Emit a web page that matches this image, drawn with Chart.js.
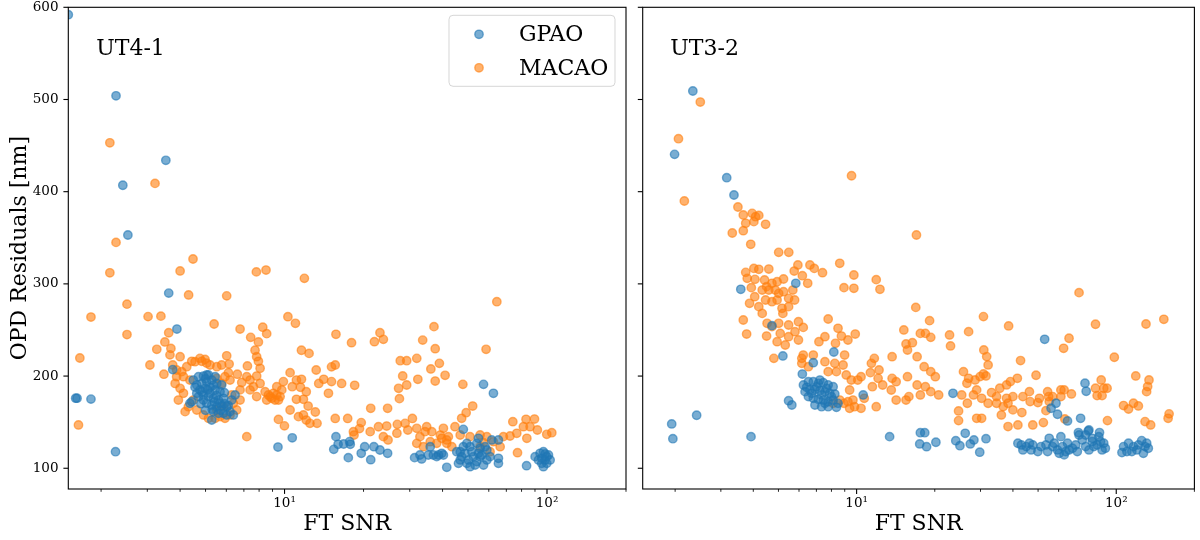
<!DOCTYPE html>
<html><head><meta charset="utf-8">
<script src="https://cdn.jsdelivr.net/npm/chart.js@4.4.1/dist/chart.umd.min.js"></script>
<style>
html,body{margin:0;padding:0;background:#fff;}
#wrap{position:relative;width:1200px;height:540px;overflow:hidden;}
#p1{position:absolute;left:0;top:0;width:634px;height:540px;}
#p2{position:absolute;left:634px;top:0;width:566px;height:540px;}
</style></head><body>
<div id="wrap"><div id="p1"><canvas id="c1" width="634" height="540"></canvas></div><div id="p2"><canvas id="c2" width="566" height="540"></canvas></div></div>
<script>
// ---- data: [FT SNR, OPD residual nm] ----
const panelNames = ['UT4-1', 'UT3-2'];
const seriesNames = ['GPAO', 'MACAO'];
const xTickValues = [2,3,4,5,6,7,8,9,10,20,30,40,50,60,70,80,90,100,200];
const xTickLabels = ['','','','','','','','','10\u00b9','','','','','','','','','10\u00b2',''];
const yTickValues = [100,200,300,400,500,600];

const ut41Gpao = [[1.5,592],[2.28,504],[3.53,434],[2.42,407],[2.53,353],[3.62,290],[3.89,251],[3.75,207],[1.62,176],[1.60,176],[1.83,175],[2.27,118],[9.44,123],[10.7,133],
[4.49,195.7],[4.70,199.3],[4.91,200],[5.13,201.2],[4.63,190.3],[4.84,192],[5.05,193.9],[5.28,195.7],[5.52,192],[4.76,184.9],[4.98,186.7],[5.20,187.8],[5.44,184.9],[5.68,183.1],[4.70,177.7],[4.91,179.5],[5.13,177.7],[5.36,175.9],[5.60,174],[5.85,175.9],[5.05,170.4],[5.28,168.6],[5.52,166.8],[5.76,167.5],[6.02,166.8],[5.36,161.4],[5.60,159.6],[5.85,159.6],[6.20,161.4],[6.38,157.8],[5.28,152.3],[5.05,201.2],[4.43,172.2],[5.76,190.3],[6.29,174],[6.48,179.5],[5.44,199.3],[5.20,181.3],[4.91,174],[5.68,170.4],[6.02,157.8],[4.63,181.3],[4.36,170.4],[4.56,188],[5.0,197],[5.35,190],[4.85,183],[5.1,185],[5.5,179],[4.8,170],[5.4,172],[5.9,170],[5.3,164],[5.0,163],[5.7,163],[6.1,168],[5.9,182],
[15.4,120.5],[16.0,126],[16.8,126.3],[17.7,128.9],[17.8,126],[17.5,111.5],[19.6,116.2],[20.2,123.4],[21.3,109.3],[21.9,123.4],[23.1,119.8],[24.7,116.2],[15.7,134.3],
[31.3,111.5],[33.3,110.1],[35.9,123.4],[35.3,114.4],[36.9,114.4],[38.6,114.4],[40.3,114.4],[41.5,101],[45.3,118],[48.0,142.2],[47.3,112.6],[49.5,127],[50.2,109],[52.4,112.6],[54.8,132.5],[54,107.2],[55.6,112.6],[57.3,103.5],[59,109],[57.3,191],[62.5,181.3],[61.6,130.7],[65.3,130.7],[65.3,110.8],[65.3,105.3],[48,123.4],[50.9,123.4],[46.7,109],[49.5,105.3],[55.6,121.6],[59,119.8],[51.7,118],[54.8,116.2],[50.9,101.7],[46.7,118],[32.8,114.4],[38,112.6],[39.7,116.2],[46,105.3],[53.2,103.5],[56.4,114.4],[60.7,112.6],[48.7,116.2],[58.1,123.4],[54,127],
[90.1,112.6],[83.6,102.8],[94.1,116.2],[96.9,118],[98.3,109],[101.3,114.4],[96.9,101.7],[99.8,112.6],[95.5,110.8],[92.8,109],[99.8,105.3],[98.3,115.5],[102.8,109],[95.5,105.3]];

const ut41Macao = [[2.16,453],[3.21,409],[2.28,345],[2.16,312],[4.48,327],[4.0,314],[7.81,313],[8.5,315],[11.9,306],[4.31,288],[6.02,287],[1.83,264],[2.51,278],[2.51,245],[3.02,264.5],[1.66,219.6],[1.64,147],
[3.38,265],[5.39,256.5],[3.07,212],[3.62,247],[3.50,237],[3.26,229],[3.69,230],[3.66,223],[4.0,221],[3.75,212],[3.47,202],[4.43,216],[4.84,216],[5.05,214],[5.20,212],[6.02,222],[6.15,213],[6.77,251],[7.43,242],[8.26,253],[8.55,246],[7.95,237],[7.72,228],[7.22,211],[7.83,221],[7.95,216],[8.07,208.4],[6.11,203.7],[6.20,195.7],[5.76,192],[6.61,202],[7.18,199.3],[6.87,193],[7.39,195.7],[7.83,200],[8.07,192],[7.61,188.5],[7.39,185],[7.83,177.7],[8.81,177.7],[9.2,174],[8.43,183],[8.68,179.5],[9.07,181.3],[9.48,174],[9.62,177.7],[8.55,174],[8.94,176],[9.34,179.5],[9.76,185],[9.9,194],[9.34,188.5],[10.5,203.7],[11.1,195.7],[11.6,196.5],[10.7,188.5],[11.5,187.8],[12.1,183],[11.8,174.8],[12.3,167.5],[11.1,174.8],[10.5,163.2],[9.48,153],[9.99,146],[11.3,156],[11.8,157.8],[12.1,152.3],[12.5,148.7],[13.1,161],[13.3,148.7],[10.3,264.4],[11.0,257.2],[11.6,228],[12.4,224.6],[13.2,206.6],[15.1,210],[15.6,212],[14.1,196.5],[13.5,192],[14.7,181.3],[15.1,194],[16.5,192],[18.5,190],[15.6,154],[17.4,154],[19.3,143],[18.3,139.7],[18.4,136],[21.3,165],[24.7,165],[19.6,149.5],[21.2,139.7],[22.8,145],[24.5,145.8],[23.8,134.3],[24.8,130.7],[26.9,147.6],[26.8,138],[29.5,141.5],[30.7,154],[31.9,143.3],[34.8,145],[36.4,139.7],[39.2,136],[40.3,143.3],[41.5,130.7],[32.8,134.3],[15.7,245.3],[18.0,236.2],[22.0,237.3],[23.1,247],[23.8,239.8],[27.6,216.7],[29.2,216.7],[31.9,219.2],[33.6,239],[37.1,253.6],[37.5,229.7],[38.9,213.8],[36.1,207.7],[37.5,194.6],[40.9,200.8],[32.2,196.5],[29.2,190.3],[27.2,186.7],[27.4,175.5],[7.18,134.3],
[3.88,199.3],[3.83,192],[4.0,186.7],[4.12,181.3],[3.94,174],[4.18,161.4],[4.30,166.8],[4.49,174],[4.63,163.2],[4.91,157.8],[5.13,154.2],[5.44,154.2],[5.68,156],[5.93,154.2],[5.52,163.2],[6.20,157.8],[5.85,166.8],[6.29,179.5],[6.77,185],[4.12,199.3],[4.36,195.7],[4.06,204.8],[4.24,210.2],[3.88,206.6],[6.77,174],[6.38,170.4],[6.57,163.2],[4.56,215.6],[4.76,219.2],[4.98,218.1],[5.52,210.2],[5.76,212],[5.93,199.3],[5.52,197.5],
[28.2,200.1],[28.8,148.7],[34.3,139.7],[42.1,134.3],[31.9,127],[33.8,123.4],[35.9,128.8],[38.0,127],[39.7,132.5],[41.5,127],
[47.8,191],[58.6,229],[52.1,167.5],[49.2,160.3],[47.3,154.2],[44.6,145.1],[46.7,136.1],[50.9,134.3],[55.6,136.1],[59,134.3],[62.5,128.8],[68.2,134.3],[72.3,135],[76.7,137.9],[74.1,150.5],[83.2,153.1],[89.6,153.4],[81.3,145.1],[86.2,145.1],[91.9,141.5],[99.8,136.8],[104.3,138.6],[83.8,132.5],[77.2,116.9],[43.4,123.4],[60.7,118],[57.3,127.8],[55.6,123.4],[66.3,123.4],[64.4,280.7]];

const ut32Gpao = [[2.34,509.2],[1.99,440.5],[3.16,415.2],[3.37,396.4],[3.58,294.1],[5.83,300.6],[4.72,254.7],[5.20,221.8],[8.17,226.1],[6.81,214.5],[6.18,202.2],[10.6,179.5],[5.47,173.3],[5.63,168.6],[3.92,134.3],[13.4,134.3],[23.5,181.3],[1.94,148.1],[1.96,132.1],[2.42,157.5],
[6.24,190.3],[6.52,193.9],[6.81,193.9],[7.12,192.1],[7.44,192.8],[7.77,190.3],[8.12,188.5],[6.33,183.1],[6.61,184.9],[6.91,185.6],[7.22,184.2],[7.55,183.1],[7.88,181.3],[8.24,180.5],[6.52,177.7],[6.81,175.9],[7.12,174.8],[7.44,174],[7.77,172.2],[8.12,174],[8.48,170.4],[6.91,168.6],[7.33,166.8],[7.77,166.8],[8.36,166.1],[7.01,188.5],[7.33,179.5],[7.66,186.7],[6.71,181.3],[8.0,177.7],[7.22,195.7],[7.55,170.4],[6.42,187.8],
[17.6,138.6],[18.3,138.6],[17.5,126.4],[18.6,123.4],[20.2,128.2],[24.1,129.9],[25.0,124.5],[26.2,137.9],[27.4,126.4],[28.3,130.7],[29.8,117.4],[31.5,132.1],
[53.0,239.9],[75.8,192.2],[76.6,183.5],[58.6,170.5],[56.1,165.1],[59.4,158.6],[64.9,151.3],[72.9,154.2],[86.2,138.7],[71.5,138.7],[78.0,140.5],
[43.1,125.3],[45.0,123.5],[47.7,125.3],[49.9,118.1],[53.6,125.3],[55.2,132.5],[56.9,123.5],[59.4,119.9],[61.2,134.3],[62.1,123.5],[63.9,118.1],[64.9,127.1],[67.8,121.7],[70.8,118.1],[69.8,125.3],[71.9,136.1],[74,130.7],[76.2,123.5],[78.5,141.6],[80.8,132.5],[82,123.5],[84.4,125.3],[88.2,119.9],[89.5,127.1],[78.5,119.9],[76.2,136.1],[80.8,128.9],[105.2,117],[109.9,118.1],[111.5,127.1],[116.5,123.5],[121.7,125.3],[125.3,130],[129.1,123.5],[132.9,121.7],[127.2,116.3],[114.8,118.1],[43.7,119.9],[47.0,119.9],[54.4,118.1],[60.3,116.3],[63.0,114.5],[41.8,127.1],[46.3,127.1],[51.3,123.5],[57.7,127.1],[65.8,119.9],[85.7,134.3],[87,128.9],[90.8,121.7],[106.7,123.5],[120,119.9],[131,127.1]];

const ut32Macao = [[2.50,497.2],[2.06,457.5],[2.17,389.9],[9.56,417.3],[3.49,383.4],[3.66,374.7],[3.96,376.5],[4.08,372.9],[4.20,374.3],[4.02,367.5],[3.74,365.7],[4.46,364.6],[3.32,355.2],[3.66,357.7],[3.91,342.9],[5.01,334.2],[5.48,334.2],[5.94,320.5],[6.61,320.5],[6.87,316.8],[7.39,312.1],[8.61,322.3],[9.76,309.6],[9.76,295.2],[8.94,295.9],[11.9,304.6],[12.3,294.1],[3.74,312.5],[3.79,306],[4.02,316.8],[4.20,315.8],[4.59,316.1],[4.06,304.9],[3.93,295.9],[4.42,304.2],[4.50,297],[4.72,300.6],[4.94,302.4],[5.23,305.3],[5.75,313.9],[6.18,308.9],[6.48,300.6],[5.68,293.3],[4.86,293.3],[4.59,293.3],[4.33,293.3],[5.01,289.7],[5.23,291.5],[5.47,284.3],[4.05,286.1],[3.87,278.9],[4.20,275.3],[4.33,268.0],[4.46,282.5],[4.72,280.7],[4.94,282.5],[5.16,273.5],[5.47,275.3],[5.77,282.5],[5.20,268],[3.66,260.8],[3.77,245.6],[4.50,243.4],[5.01,257.2],[5.47,255.4],[5.97,259],[6.23,252.8],[5.79,248.1],[5.97,239.1],[5.08,246.3],[5.47,242.7],[4.94,237.3],[5.31,233.7],[7.77,261.9],[8.48,251.8],[7.55,242.7],[8.74,243.4],[9.26,239.1],[9.88,245.6],[8.29,235.5],[8.99,222.8],[7.16,237.3],[4.80,219.2],[6.23,222.8],[6.15,219.2],[11.7,219.2],[15.2,250],[15.5,234.8],[16.4,236.2],[16.9,274.5],[17.0,353],
[4.52,257.2],[4.72,253.6],[6.81,222.8],[13.7,221],[17.6,246.3],[18.4,246.3],[19.3,242],[19.1,260.1],[15.7,228.3],[17.1,221],
[6.15,213.8],[6.52,210.2],[7.55,215.6],[8.24,213.8],[8.87,212],[7.77,204.8],[8.36,204.8],[9.12,201.2],[9.54,195.7],[10.1,195.7],[9.40,184.9],[10.4,199.3],[11.4,213.8],[12.2,206.6],[11.3,203.7],[12.1,197.5],[11.5,188.5],[12.6,190.3],[13.6,184.9],[14.2,174],[18.2,210.2],[19.3,204.8],[20.1,199.3],[18.4,188.5],[17.1,190.3],[15.7,199.3],[15.9,177.7],[15.5,174],[17.6,179.5],[19.3,183.1],[20.7,179.5],[13.7,197.5],[14.2,193.9],[11.9,166.8],[10.7,175.9],[10.4,165],[9.82,166.8],[9.40,165],[8.94,170.4],[9.68,174],[9.26,172.2],[8.12,170.4],[8.61,174],
[71.9,290.5],[30.8,264.5],[27.0,248.2],[38.5,254.4],[22.8,244.6],[23.0,232.7],[83.2,256.2],[130.2,256.5],[152.5,261.6],[65.8,241],[62.7,230.1],[98.3,220.4],[30.9,228.3],[31.7,221.1],[32.1,212.1],[42.8,216.8],[49.1,200.9],[25.8,204.8],[27.0,197.6],[26.6,192.2],[28.6,195.8],[29.9,199.4],[30.8,202.3],[31.5,200.1],[29.0,185],[25.4,179.5],[28.2,179.5],[30.3,175.9],[26.7,170.5],[24.7,162.2],[24.7,151.7],[29.0,154.2],[30.3,154.2],[32.1,170.5],[33.1,182.1],[35.6,186.8],[37.8,190.4],[39.1,194],[41.6,197.6],[34.6,177.7],[34.6,170.5],[36.7,166.9],[37.8,175.9],[40,177.7],[38.3,170.5],[40,163.3],[36.1,157.8],[38.3,145.2],[41.8,147],[43.7,177.7],[46.3,183.1],[46.6,172.3],[43.3,160.4],[47.7,147],[50.6,175.9],[49.9,171.2],[54.4,183.1],[54.9,177.7],[55.2,172.3],[56.9,177.7],[61.2,185],[63,185],[67.2,180.6],[53.6,162.5],[52.4,149.5],[63.4,153.5],[61.2,177.7],[87.5,195.8],[89.5,186.8],[83.2,186.8],[92.2,186.8],[88.2,178.8],[84.4,178.8],[118.9,200.1],[133.7,195.8],[132.1,188.6],[130.9,183.1],[106.7,168],[111.5,164.3],[116.5,170.5],[121.7,167.6],[129.1,150.6],[135.7,147],[92.5,151.7],[159.8,159],[158.4,154.2]];

// ---- drawing ----
const FONT = '"DejaVu Serif", "Liberation Serif", serif';
const blue = 'rgba(31,119,180,0.6)';
const orange = 'rgba(255,127,14,0.6)';
Chart.defaults.font.family = FONT;
Chart.defaults.color = '#000';

const toXY = arr => arr.map(p => ({x: p[0], y: p[1]}));

const mplPlugin = {
  id: 'mpl',
  afterDraw(chart, args, opts) {
    const {ctx, chartArea: a, scales: {x, y}} = chart;
    ctx.save();
    ctx.strokeStyle = '#000';
    x.ticks.forEach(t => {
      const p = x.getPixelForValue(t.value);
      if (p < a.left - 0.5 || p > a.right + 0.5) return;
      const major = xTickLabels[xTickValues.indexOf(t.value)] !== '';
      ctx.lineWidth = major ? 1.1 : 0.85;
      ctx.beginPath(); ctx.moveTo(p, a.bottom); ctx.lineTo(p, a.bottom + (major ? 4.9 : 2.8)); ctx.stroke();
    });
    y.ticks.forEach(t => {
      const p = y.getPixelForValue(t.value);
      ctx.lineWidth = 1.1;
      ctx.beginPath(); ctx.moveTo(a.left, p); ctx.lineTo(a.left - 4.9, p); ctx.stroke();
    });
    ctx.lineWidth = 1.1;
    ctx.strokeRect(a.left, a.top, a.right - a.left, a.bottom - a.top);
    ctx.fillStyle = '#000';
    ctx.font = '22px ' + FONT;
    ctx.textAlign = 'left'; ctx.textBaseline = 'alphabetic';
    ctx.fillText(opts.label, a.left + 0.05 * (a.right - a.left), a.bottom - 0.9 * (a.bottom - a.top));
    if (opts.legend) {
      const fx = a.right - 177, fy = a.top + 8, fw = 166, fh = 71, r = 4;
      ctx.beginPath();
      ctx.moveTo(fx + r, fy); ctx.lineTo(fx + fw - r, fy); ctx.arcTo(fx + fw, fy, fx + fw, fy + r, r);
      ctx.lineTo(fx + fw, fy + fh - r); ctx.arcTo(fx + fw, fy + fh, fx + fw - r, fy + fh, r);
      ctx.lineTo(fx + r, fy + fh); ctx.arcTo(fx, fy + fh, fx, fy + fh - r, r);
      ctx.lineTo(fx, fy + r); ctx.arcTo(fx, fy, fx + r, fy, r); ctx.closePath();
      ctx.fillStyle = 'rgba(255,255,255,0.8)'; ctx.fill();
      ctx.strokeStyle = 'rgba(204,204,204,0.8)'; ctx.lineWidth = 1; ctx.stroke();
      chart.data.datasets.forEach((ds, i) => {
        const cy = fy + 19 + i * 33.5;
        ctx.beginPath(); ctx.arc(fx + 30, cy, 4.2, 0, Math.PI * 2);
        ctx.fillStyle = ds.backgroundColor; ctx.fill();
        ctx.strokeStyle = ds.borderColor; ctx.lineWidth = 1.4; ctx.stroke();
        ctx.fillStyle = '#000'; ctx.font = '22px ' + FONT;
        ctx.textAlign = 'left'; ctx.textBaseline = 'middle';
        ctx.fillText(ds.label, fx + 70, cy + 1);
      });
    }
    ctx.restore();
  }
};

function makeChart(canvasId, gpao, macao, label, isLeft) {
  return new Chart(document.getElementById(canvasId), {
    type: 'scatter',
    data: {
      datasets: [
        {label: seriesNames[0], data: toXY(gpao), backgroundColor: blue, borderColor: blue, borderWidth: 1.4, pointRadius: 4.2, pointHoverRadius: 4.2, clip: 0},
        {label: seriesNames[1], data: toXY(macao), backgroundColor: orange, borderColor: orange, borderWidth: 1.4, pointRadius: 4.2, pointHoverRadius: 4.2, clip: 0}
      ]
    },
    options: {
      responsive: false, animation: false, devicePixelRatio: 1, events: [],
      layout: {padding: {top: 7.3, right: isLeft ? 8 : 1, bottom: 0, left: 0}},
      plugins: {legend: {display: false}, tooltip: {enabled: false}, mpl: {label: label, legend: isLeft}},
      scales: {
        x: {
          type: 'logarithmic', min: 1.5, max: 200,
          afterBuildTicks: s => { s.ticks = xTickValues.map(v => ({value: v})); },
          afterFit: s => { s.height = 51; s.paddingLeft = 0; s.paddingRight = 0; },
          grid: {display: false, drawTicks: false},
          border: {display: false},
          ticks: {autoSkip: false, maxRotation: 0, minRotation: 0, padding: 6, color: '#000',
                  font: {family: FONT, size: 13.5},
                  callback: v => { const i = xTickValues.indexOf(v); return i >= 0 ? xTickLabels[i] : ''; }},
          title: {display: true, text: 'FT SNR', color: '#000', font: {family: FONT, size: 22}, padding: {top: 0, bottom: 3}}
        },
        y: {
          type: 'linear', min: 77.5, max: 600,
          afterBuildTicks: s => { s.ticks = yTickValues.map(v => ({value: v})); },
          afterFit: s => { s.width = isLeft ? 68.3 : 8.7; s.paddingTop = 0; s.paddingBottom = 0; },
          grid: {display: false, drawTicks: false},
          border: {display: false},
          ticks: {display: isLeft, padding: 9.8, color: '#000', font: {family: FONT, size: 13.5},
                  callback: v => String(v)},
          title: {display: isLeft, text: 'OPD Residuals [nm]', color: '#000', font: {family: FONT, size: 22}, padding: {top: 7, bottom: 0}}
        }
      }
    },
    plugins: [mplPlugin]
  });
}

makeChart('c1', ut41Gpao, ut41Macao, panelNames[0], true);
makeChart('c2', ut32Gpao, ut32Macao, panelNames[1], false);
</script>
</body></html>
